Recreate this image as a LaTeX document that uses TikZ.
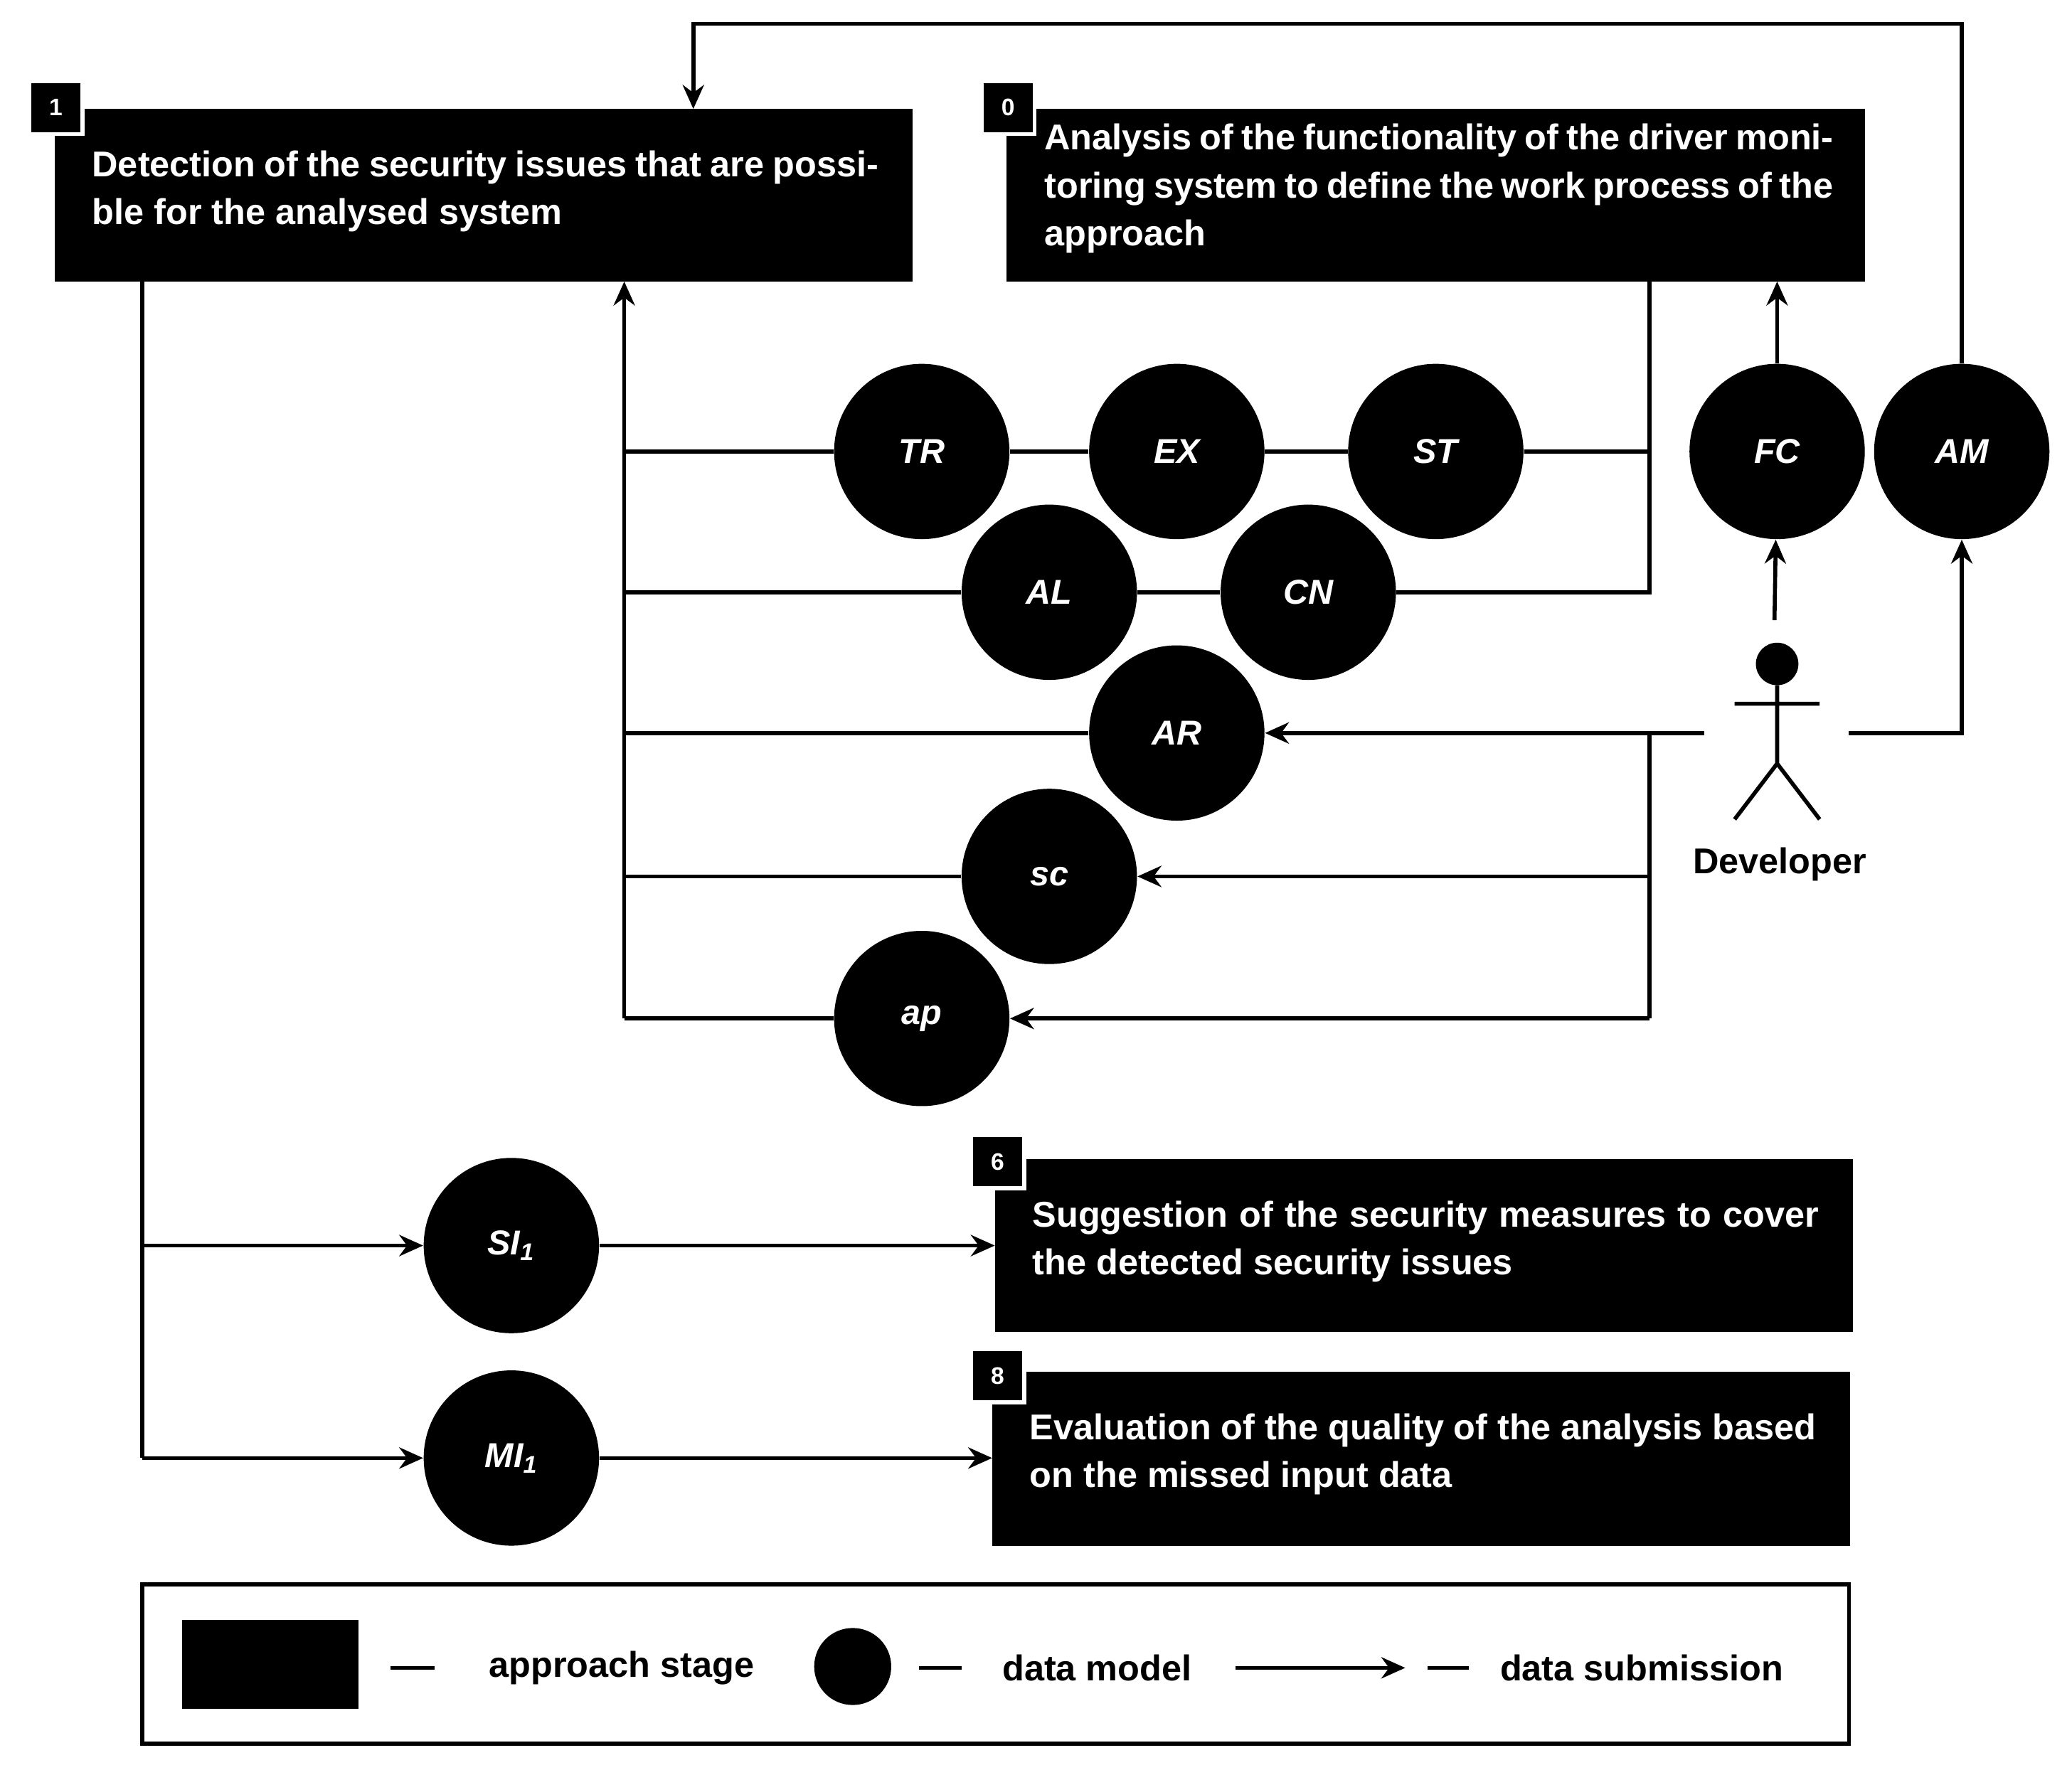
\documentclass[tikz,border=0pt]{standalone}
\usepackage{fontspec}
\setmainfont{Liberation Sans}
\usetikzlibrary{arrows.meta}
\begin{document}
\begin{tikzpicture}[x=0.5pt,y=-0.5pt,
  ln/.style={line width=1.5pt},
  ar/.style={ln,-{Stealth[length=9pt,width=8pt]}},
  dm/.style={circle,fill=black,minimum size=66pt,inner sep=0pt,text=white,font=\bfseries\itshape\fontsize{13}{15}\selectfont},
  st/.style={fill=black,text=white,font=\bfseries\fontsize{13.5}{18}\selectfont,align=justify,inner sep=0pt,anchor=north west},
  tag/.style={fill=black,draw=white,line width=1.5pt,text=white,minimum size=20pt,inner sep=0pt,font=\bfseries\fontsize{9}{10}\selectfont},
  lab/.style={font=\bfseries\fontsize{13.5}{16}\selectfont}]
\useasboundingbox (0,0) rectangle (1560,1329);
% stage boxes
\fill (41,82) rectangle (687,212); \coordinate (b1) at (41,82);
\node[st,text width=296pt] (t1) at (69,113) {Detection of the security issues that are possible for the analysed system};
\node[tag] (g1) at (42,81) {1};
\fill (758,82) rectangle (1404,212);
\node[st,text width=297pt] (t0) at (786,93) {Analysis of the functionality of the driver monitoring system to define the work process of the approach};
\node[tag] (g0) at (759,81) {0};
\fill (749,873) rectangle (1395,1003);
\node[st,text width=296pt] (t6) at (777,904) {Suggestion of the security measures to cover the detected security issues};
\node[tag] (g6) at (751,875) {6};
\fill (747,1033) rectangle (1393,1164);
\node[st,text width=296pt] (t8) at (775,1064) {Evaluation of the quality of the analysis based on the missed input data};
\node[tag] (g8) at (751,1036) {8};
\coordinate (B1top) at (522,82);
\coordinate (B1bot) at (470,212);
\coordinate (B0bot) at (1338,212);
% data models
\node[dm] (TR) at (694,340) {TR};
\node[dm] (EX) at (886,340) {EX};
\node[dm] (ST) at (1081,340) {ST};
\node[dm] (FC) at (1338,340) {FC};
\node[dm] (AM) at (1477,340) {AM};
\node[dm] (AL) at (790,446) {AL};
\node[dm] (CN) at (985,446) {CN};
\node[dm] (AR) at (886,552) {AR};
\node[dm] (sc) at (790,660) {sc};
\node[dm] (ap) at (694,767) {ap};
\node[dm] (SI) at (385,938) {SI\textsubscript{1}};
\node[dm] (MI) at (385,1098) {MI\textsubscript{1}};
% left collector
\draw[ar] (470,767) -- (B1bot);
\draw[ln] (470,340) -- (TR) -- (EX) -- (ST) -- (1242,340);
\draw[ln] (470,446) -- (AL) -- (CN) -- (1242,446) -- (1242,212);
\draw[ln] (470,552) -- (AR);
\draw[ln] (470,660) -- (sc);
\draw[ln] (470,767) -- (ap);
% developer
\fill (1338,500) circle (16);
\draw[ln] (1338,516) -- (1338,575) (1306,530) -- (1370,530) (1306,617) -- (1338,575) -- (1370,617);
\node[lab] (dev) at (1340,651) {Developer};
\draw[ar] (1283,552) -- (AR);
\draw[ln] (1242,552) -- (1242,767);
\draw[ar] (1242,660) -- (sc);
\draw[ar] (1242,767) -- (ap);
\draw[ar] (1336,467) -- (FC);
\draw[ar] (FC) -- (B0bot);
\draw[ar] (1392,552) -- (1477,552) -- (AM);
\draw[ar] (AM) -- (1477,18) -- (522,18) -- (B1top);
% lower
\draw[ln] (107,212) -- (107,1098);
\draw[ar] (107,938) -- (SI);
\draw[ar] (107,1098) -- (MI);
\draw[ar] (SI) -- (749,938);
\draw[ar] (MI) -- (747,1098);
% legend
\draw[ln] (107,1193) rectangle (1392,1313);
\fill (137,1220) rectangle (270,1287);
\draw[ln] (294,1256) -- (327,1256);
\node[lab] (l1) at (468,1256) {approach stage};
\node[circle,fill=black,minimum size=29pt,inner sep=0pt] (lc) at (642,1255) {};
\draw[ln] (692,1256) -- (724,1256);
\node[lab] (l2) at (826,1256) {data model};
\coordinate (a1) at (930,1256); \coordinate (a2) at (1058,1256);
\draw[ar] (a1) -- (a2);
\draw[ln] (1075,1256) -- (1106,1256);
\node[lab] (l3) at (1236,1256) {data submission};
\end{tikzpicture}
\end{document}
